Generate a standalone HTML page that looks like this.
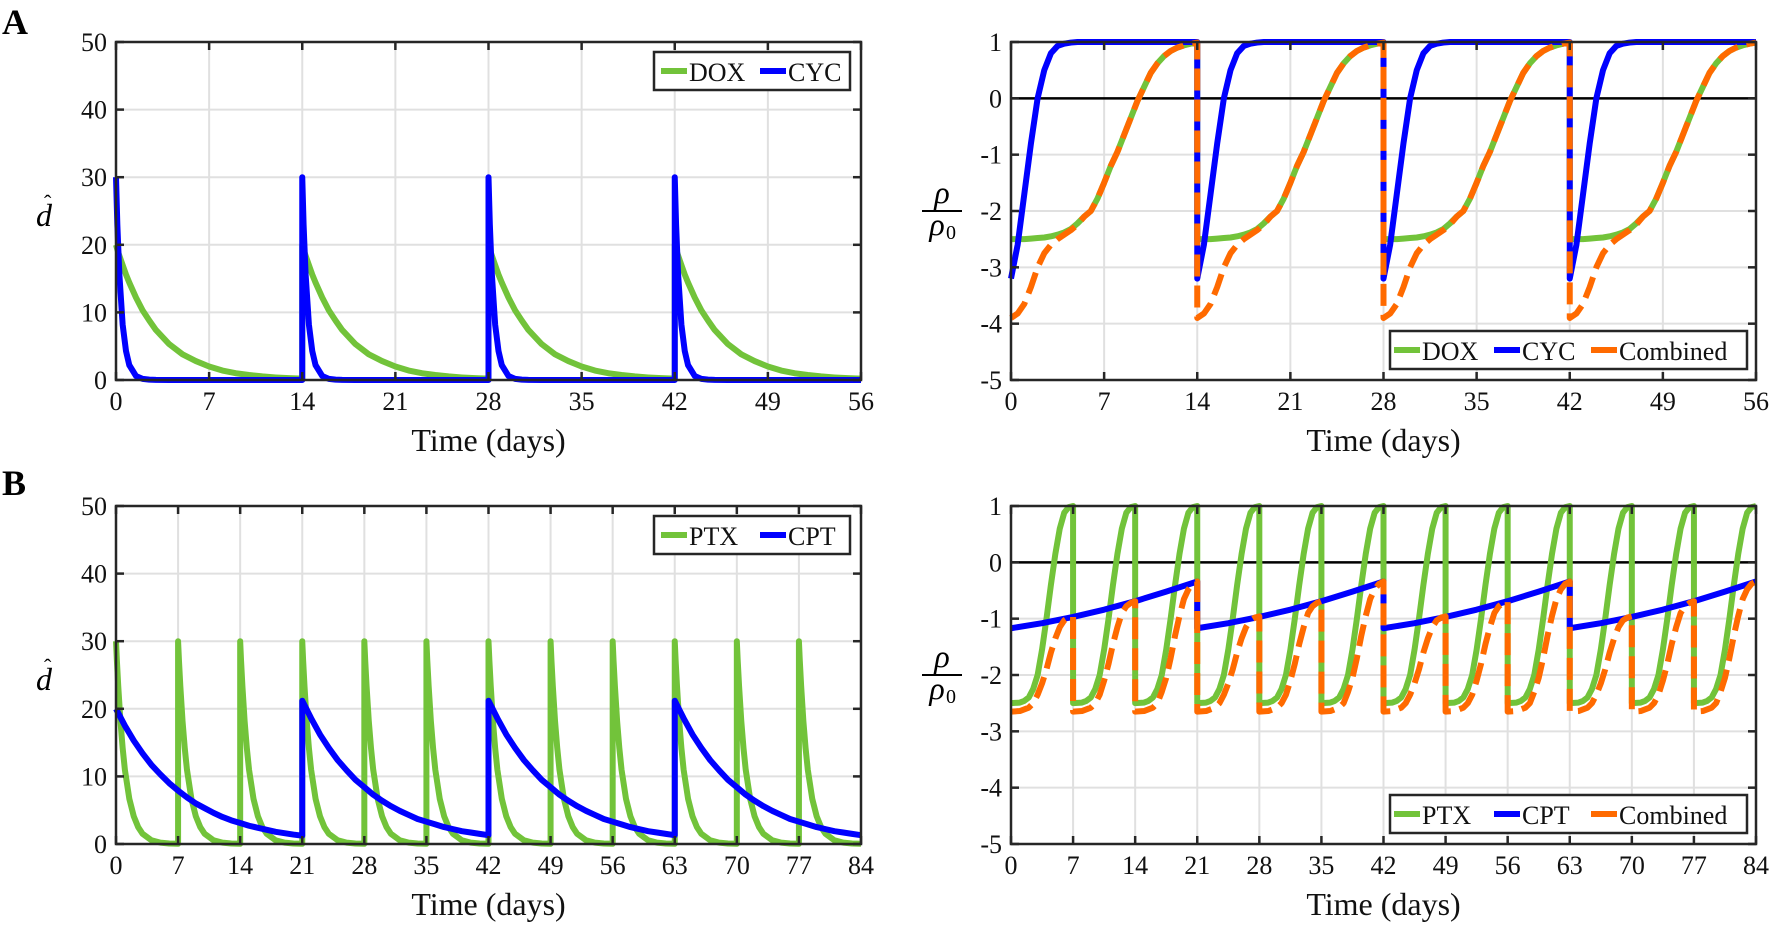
<!DOCTYPE html>
<html><head><meta charset="utf-8">
<style>
html,body{margin:0;padding:0;background:#fff;}
svg{display:block;font-family:"Liberation Serif",serif;}
</style></head>
<body>
<svg id="fig" width="1771" height="927" viewBox="0 0 1771 927" xmlns="http://www.w3.org/2000/svg">
<text x="2" y="34" font-size="36" font-weight="bold">A</text>
<text x="2" y="495" font-size="36" font-weight="bold">B</text>
</svg>
<script>
// ---- Panel A left: dose concentrations (DOX, CYC) ----
const aDoses = [0, 14, 28, 42];
const aDoseOffsets = [0,0.1,0.25,0.5,0.75,1,1.5,2,2.5,3,4,5,6,7,8,9,10,11,12,13,14];
const aDoxDose = [20,19.3,18.4,17.0,15.6,14.4,12.2,10.3,8.8,7.4,5.3,3.8,2.8,2.0,1.4,1.0,0.74,0.53,0.38,0.27,0.2];
const aCycDose = [30,23,15.7,8.2,4.3,2.2,0.6,0.17,0.05,0.01,0,0,0,0,0,0,0,0,0,0,0];
// ---- Panel A right: rho/rho0 ----
const aRhoOffsets = [0,0.5,1,1.5,2,2.5,3,3.5,4,4.5,5,5.5,6,6.5,7,7.5,8,8.5,9,9.5,10,10.5,11,11.5,12,12.5,13,13.5,14];
const aDoxRho = [-2.5,-2.5,-2.5,-2.49,-2.48,-2.47,-2.45,-2.42,-2.38,-2.32,-2.22,-2.1,-2.0,-1.78,-1.5,-1.2,-0.95,-0.65,-0.35,-0.05,0.2,0.45,0.62,0.75,0.84,0.9,0.94,0.97,0.99];
const aCycRho = [-3.2,-2.6,-1.7,-0.8,0.0,0.5,0.8,0.93,0.97,0.99,1,1,1,1,1,1,1,1,1,1,1,1,1,1,1,1,1,1,1];
const aCombRho = [-3.9,-3.82,-3.65,-3.35,-3.0,-2.75,-2.6,-2.5,-2.42,-2.34,-2.24,-2.1,-2.0,-1.78,-1.5,-1.2,-0.95,-0.65,-0.35,-0.05,0.2,0.45,0.62,0.75,0.84,0.9,0.94,0.97,0.99];
// ---- Panel B left: dose concentrations (PTX, CPT) ----
const bPtxDoses = [0,7,14,21,28,35,42,49,56,63,70,77];
const bPtxOffsets = [0,0.1,0.25,0.5,0.75,1,1.5,2,2.5,3,4,5,6,7];
const bPtxDose = [30,27.1,23.4,18.2,14.2,11.0,6.7,4.1,2.5,1.5,0.55,0.2,0.07,0.03];
const bCptDoses = [0,21,42,63];
const bCptOffsets = [0,1,2,3,4,5,6,7,8,9,10,11,12,13,14,15,16,17,18,19,20,21];
const bCptDoseFirst = [20,17.5,15.3,13.4,11.7,10.3,9.0,7.9,6.9,6.0,5.3,4.6,4.0,3.5,3.1,2.7,2.4,2.1,1.8,1.6,1.4,1.23];
const bCptDoseLater = [21.2,18.6,16.2,14.2,12.4,10.9,9.5,8.4,7.3,6.4,5.6,4.9,4.3,3.7,3.3,2.9,2.5,2.2,1.9,1.7,1.5,1.3];
// ---- Panel B right: rho/rho0 ----
const bPtxRhoOffsets = [0,1,1.5,2,2.5,3,3.5,4,4.5,5,5.5,6,6.5,7];
const bPtxRho = [-2.5,-2.49,-2.46,-2.4,-2.25,-2.0,-1.55,-1.0,-0.4,0.15,0.6,0.88,0.98,1.0];
const bCptRhoOffsets = [0,3.5,7,10.5,14,17.5,21];
const bCptRho = [-1.17,-1.08,-0.97,-0.84,-0.69,-0.52,-0.34];
const bCombOffsets = [0,1,2,2.5,3,3.5,4,4.5,5,5.5,6,6.5,7];
const bCombSub1 = [-2.65,-2.64,-2.58,-2.5,-2.35,-2.15,-1.9,-1.6,-1.35,-1.15,-1.03,-0.98,-0.96];
const bCombSub2 = [-2.65,-2.64,-2.58,-2.5,-2.35,-2.1,-1.8,-1.45,-1.15,-0.9,-0.78,-0.72,-0.69];
const bCombSub3 = [-2.65,-2.64,-2.58,-2.5,-2.3,-2.05,-1.7,-1.3,-0.95,-0.65,-0.48,-0.38,-0.34];
const bSubStarts = [0,7,14];
// ---- ticks ----
const ticks56 = [0,7,14,21,28,35,42,49,56];
const ticks84 = [0,7,14,21,28,35,42,49,56,63,70,77,84];
const doseTicks = [0,10,20,30,40,50];
const rhoTicks = [-5,-4,-3,-2,-1,0,1];

const NS = "http://www.w3.org/2000/svg";
const svg = document.getElementById('fig');
const GREEN = "#72c33a", BLUE = "#0000ff", ORANGE = "#ff6a00";

function mk(tag, attrs, parent) {
  const e = document.createElementNS(NS, tag);
  for (const k in attrs) e.setAttribute(k, attrs[k]);
  (parent || svg).appendChild(e);
  return e;
}

function makeAxes(name, L, R, T, B, xmin, xmax, ymin, ymax, xt, yt, zeroLine) {
  const g = mk('g', {});
  
  
  const sx = v => L + (v - xmin) / (xmax - xmin) * (R - L);
  const sy = v => B - (v - ymin) / (ymax - ymin) * (B - T);
  xt.forEach(t => {
    const l = mk('line', {x1: sx(t), x2: sx(t), y1: T, y2: B, stroke: '#e0e0e0', 'stroke-width': 2}, g);
    
    
  });
  yt.forEach(t => {
    const l = mk('line', {x1: L, x2: R, y1: sy(t), y2: sy(t), stroke: '#e0e0e0', 'stroke-width': 2}, g);
    
    
  });
  if (zeroLine) {
    const z = mk('line', {x1: L, x2: R, y1: sy(0), y2: sy(0), stroke: '#000', 'stroke-width': 2.5}, g);
    
    
  }
  return {g, sx, sy, L, R, T, B, xt, yt};
}

function finishAxes(ax) {
  const {g, sx, sy, L, R, T, B, xt, yt} = ax;
  const box = mk('rect', {x: L, y: T, width: R - L, height: B - T, fill: 'none', stroke: '#262626', 'stroke-width': 2.5}, g);
  
  
  xt.forEach(t => {
    mk('line', {x1: sx(t), x2: sx(t), y1: B, y2: B - 8, stroke: '#262626', 'stroke-width': 2.5}, g);
    mk('line', {x1: sx(t), x2: sx(t), y1: T, y2: T + 8, stroke: '#262626', 'stroke-width': 2.5}, g);
    const tx = mk('text', {x: sx(t), y: B + 30, 'font-size': 26, 'text-anchor': 'middle', fill: '#111'}, g);
    tx.textContent = t;
    
    
  });
  yt.forEach(t => {
    mk('line', {x1: L, x2: L + 8, y1: sy(t), y2: sy(t), stroke: '#262626', 'stroke-width': 2.5}, g);
    mk('line', {x1: R, x2: R - 8, y1: sy(t), y2: sy(t), stroke: '#262626', 'stroke-width': 2.5}, g);
    const ty = mk('text', {x: L - 9, y: sy(t) + 9, 'font-size': 26, 'text-anchor': 'end', fill: '#111'}, g);
    ty.textContent = t;
    
    
  });
  const title = mk('text', {x: (L + R) / 2, y: B + 71, 'font-size': 32, 'text-anchor': 'middle', fill: '#111'}, g);
  title.textContent = 'Time (days)';
  
  
}

function cyclePoints(ax, starts, offsets, valuesFor) {
  const pts = [];
  starts.forEach((s, i) => {
    const vals = valuesFor(i);
    offsets.forEach((o, j) => pts.push(ax.sx(s + o).toFixed(2) + ',' + ax.sy(vals[j]).toFixed(2)));
  });
  return pts.join(' ');
}

function drawLine(ax, pts, color, name, dashed) {
  const attrs = {points: pts, fill: 'none', stroke: color, 'stroke-width': 6, 'stroke-linejoin': 'round'};
  if (dashed) { attrs['stroke-dasharray'] = '22 9'; }
  const p = mk('polyline', attrs, ax.g);
  
  
}

function legend(name, x, y, w, entries) {
  const g = mk('g', {});
  
  
  mk('rect', {x: x, y: y, width: w, height: 38, fill: '#fff', stroke: '#262626', 'stroke-width': 2.5}, g);
  entries.forEach(e => {
    const item = mk('g', {}, g);
    
    
    mk('line', {x1: e.x, x2: e.x + 26, y1: y + 19, y2: y + 19, stroke: e.color, 'stroke-width': 6}, item);
    const t = mk('text', {x: e.x + 28, y: y + 29, 'font-size': 26, fill: '#111'}, item);
    t.textContent = e.label;
  });
}

function rhoLabel(x, yc, name) {
  const g = mk('g', {});
  
  
  const t1 = mk('text', {x: x, y: yc - 8, 'font-size': 32, 'font-style': 'italic', 'text-anchor': 'middle'}, g);
  t1.textContent = 'ρ';
  mk('line', {x1: x - 20, x2: x + 20, y1: yc, y2: yc, stroke: '#000', 'stroke-width': 2}, g);
  const t2 = mk('text', {x: x - 5, y: yc + 24, 'font-size': 32, 'font-style': 'italic', 'text-anchor': 'middle'}, g);
  t2.textContent = 'ρ';
  const t3 = mk('text', {x: x + 4, y: yc + 28, 'font-size': 20}, g);
  t3.textContent = '0';
}

function dLabel(x, y, name) {
  const g = mk('g', {});
  
  
  const t = mk('text', {x: x, y: y, 'font-size': 32, 'font-style': 'italic'}, g);
  t.textContent = 'd';
  const h = mk('text', {x: x + 8, y: y - 16, 'font-size': 22}, g);
  h.textContent = 'ˆ';
}

// Panel A left
let ax = makeAxes('dose-chart-a', 116, 861, 42, 380, 0, 56, 0, 50, ticks56, doseTicks, false);
drawLine(ax, cyclePoints(ax, aDoses, aDoseOffsets, () => aDoxDose), GREEN, 'dox-dose-line');
drawLine(ax, cyclePoints(ax, aDoses, aDoseOffsets, () => aCycDose), BLUE, 'cyc-dose-line');
finishAxes(ax);
dLabel(36, 226, 'y-axis-title-dose-a');
legend('legend-dose-a', 654, 52, 196, [{x: 661, color: GREEN, label: 'DOX'}, {x: 760, color: BLUE, label: 'CYC'}]);

// Panel A right
ax = makeAxes('rho-chart-a', 1011, 1756, 42, 380, 0, 56, -5, 1, ticks56, rhoTicks, true);
drawLine(ax, cyclePoints(ax, aDoses, aRhoOffsets, () => aDoxRho), GREEN, 'dox-rho-line');
drawLine(ax, cyclePoints(ax, aDoses, aRhoOffsets, () => aCycRho), BLUE, 'cyc-rho-line');
drawLine(ax, cyclePoints(ax, aDoses, aRhoOffsets, () => aCombRho), ORANGE, 'combined-rho-line', true);
finishAxes(ax);
rhoLabel(942, 211, 'y-axis-title-rho-a');
legend('legend-rho-a', 1390, 331, 357, [{x: 1394, color: GREEN, label: 'DOX'}, {x: 1494, color: BLUE, label: 'CYC'}, {x: 1591, color: ORANGE, label: 'Combined'}]);

// Panel B left
ax = makeAxes('dose-chart-b', 116, 861, 506, 844, 0, 84, 0, 50, ticks84, doseTicks, false);
drawLine(ax, cyclePoints(ax, bPtxDoses, bPtxOffsets, () => bPtxDose), GREEN, 'ptx-dose-line');
drawLine(ax, cyclePoints(ax, bCptDoses, bCptOffsets, i => i === 0 ? bCptDoseFirst : bCptDoseLater), BLUE, 'cpt-dose-line');
finishAxes(ax);
dLabel(36, 690, 'y-axis-title-dose-b');
legend('legend-dose-b', 654, 516, 196, [{x: 661, color: GREEN, label: 'PTX'}, {x: 760, color: BLUE, label: 'CPT'}]);

// Panel B right
ax = makeAxes('rho-chart-b', 1011, 1756, 506, 844, 0, 84, -5, 1, ticks84, rhoTicks, true);
drawLine(ax, cyclePoints(ax, bPtxDoses, bPtxRhoOffsets, () => bPtxRho), GREEN, 'ptx-rho-line');
drawLine(ax, cyclePoints(ax, bCptDoses, bCptRhoOffsets, () => bCptRho), BLUE, 'cpt-rho-line');
const bCombSubs = [bCombSub1, bCombSub2, bCombSub3];
const combStarts = [];
const combSubIdx = [];
bCptDoses.forEach(d => bSubStarts.forEach((s, j) => { combStarts.push(d + s); combSubIdx.push(j); }));
drawLine(ax, cyclePoints(ax, combStarts, bCombOffsets, i => bCombSubs[combSubIdx[i]]), ORANGE, 'combined-rho-line-b', true);
finishAxes(ax);
rhoLabel(942, 675, 'y-axis-title-rho-b');
legend('legend-rho-b', 1390, 795, 357, [{x: 1394, color: GREEN, label: 'PTX'}, {x: 1494, color: BLUE, label: 'CPT'}, {x: 1591, color: ORANGE, label: 'Combined'}]);
</script>
</body></html>
